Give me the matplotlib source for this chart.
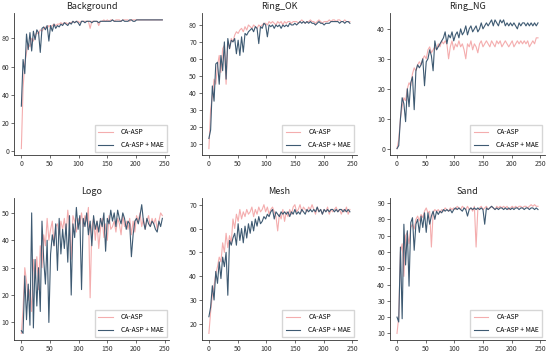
import matplotlib
matplotlib.use("Agg")
import matplotlib.pyplot as plt
from matplotlib.ticker import MultipleLocator
import numpy as np

plt.rcParams["font.family"] = ["Noto Sans CJK SC", "DejaVu Sans"]

# 每 3 个 epoch 取一个点
EPOCH_STEP = 3
LABELS = ["CA-ASP", "CA-ASP + MAE"]
TITLES = ["Background", "Ring_OK", "Ring_NG", "Logo", "Mesh", "Sand"]
Y_STEPS = [20, 10, 10, 10, 10, 10]

bg_asp = [2, 45, 62, 70, 76, 74, 80, 78, 82, 84,
          83, 86, 85, 87, 88, 87, 89, 88, 89, 90,
          89, 90, 90, 91, 90, 91, 91, 90, 91, 91,
          92, 91, 92, 92, 91, 92, 92, 92, 92, 92,
          87, 92, 92, 92, 92, 89, 92, 92, 93, 92,
          93, 92, 93, 93, 92, 93, 93, 93, 92, 93,
          93, 93, 93, 92, 93, 93, 93, 93, 93, 93,
          93, 93, 93, 93, 93, 93, 93, 93, 93, 93,
          93, 93, 93]
bg_mae = [32, 65, 55, 83, 72, 84, 71, 85, 79, 86,
          84, 70, 87, 88, 86, 89, 78, 89, 85, 90,
          87, 89, 88, 90, 89, 91, 90, 89, 91, 90,
          92, 91, 92, 91, 89, 92, 92, 91, 92, 92,
          92, 91, 92, 92, 92, 91, 92, 92, 92, 92,
          92, 92, 92, 93, 92, 92, 92, 92, 92, 93,
          92, 92, 92, 93, 93, 92, 92, 93, 93, 93,
          93, 93, 93, 93, 93, 93, 93, 93, 93, 93,
          93, 93, 93]

ok_asp = [7, 30, 38, 48, 45, 56, 62, 52, 66, 68,
          45, 70, 66, 72, 70, 74, 76, 75, 77, 78,
          76, 79, 77, 80, 79, 78, 80, 79, 78, 80,
          79, 80, 81, 81, 80, 82, 81, 82, 81, 80,
          82, 81, 82, 80, 82, 81, 82, 82, 81, 82,
          82, 82, 81, 82, 83, 82, 81, 82, 82, 83,
          82, 82, 81, 82, 83, 82, 81, 82, 82, 82,
          83, 82, 83, 83, 82, 83, 83, 82, 82, 83,
          82, 82, 82]
ok_mae = [13, 18, 44, 35, 57, 58, 45, 62, 53, 70,
          48, 72, 66, 71, 70, 72, 63, 71, 62, 73,
          64, 75, 74, 76, 77, 78, 76, 79, 78, 69,
          79, 78, 81, 80, 73, 80, 79, 80, 78, 80,
          79, 80, 78, 80, 79, 80, 79, 81, 80, 80,
          81, 80, 81, 82, 81, 82, 81, 82, 81, 82,
          81, 81, 80, 81, 82, 81, 81, 80, 81, 81,
          81, 82, 82, 82, 82, 82, 81, 82, 82, 81,
          82, 82, 81]

ng_asp = [0, 3, 10, 14, 17, 16, 20, 22, 21, 25,
          27, 26, 28, 29, 28, 30, 31, 30, 33, 34,
          32, 33, 34, 33, 35, 34, 36, 35, 36, 35,
          30, 34, 36, 33, 35, 34, 36, 34, 35, 33,
          30, 35, 34, 36, 33, 35, 34, 32, 35, 36,
          34, 35, 36, 35, 34, 36, 35, 34, 36, 35,
          36, 34, 35, 36, 35, 34, 35, 36, 34, 35,
          36, 35, 36, 35, 36, 35, 36, 34, 35, 36,
          35, 37, 37]
ng_mae = [0, 1, 10, 17, 15, 9, 20, 14, 22, 24,
          13, 26, 28, 27, 28, 30, 21, 29, 30, 33,
          31, 26, 36, 33, 34, 35, 36, 37, 39, 35,
          38, 37, 39, 36, 38, 39, 37, 40, 38, 39,
          41, 38, 40, 41, 39, 40, 41, 39, 40, 42,
          40, 41, 42, 41, 42, 43, 41, 43, 42, 41,
          43, 42, 43, 41, 42, 41, 42, 41, 42, 41,
          40, 42, 41, 42, 42, 41, 42, 41, 42, 41,
          42, 41, 42]

logo_asp = [6, 15, 30, 25, 18, 22, 14, 33, 26, 34,
            22, 38, 30, 42, 38, 48, 40, 44, 47, 38,
            45, 46, 42, 47, 44, 48, 42, 51, 45, 33,
            49, 47, 43, 48, 46, 50, 45, 49, 47, 52,
            19, 45, 48, 40, 47, 37, 44, 48, 41, 46,
            40, 49, 44, 45, 47, 43, 48, 46, 42, 49,
            45, 47, 44, 48, 42, 47, 43, 49, 47, 50,
            45, 48, 44, 47, 49, 45, 48, 46, 48, 44,
            47, 50, 49]
logo_mae = [7, 6, 27, 11, 24, 9, 50, 8, 33, 16,
            30, 14, 47, 33, 24, 40, 10, 35, 42, 38,
            46, 29, 48, 35, 44, 37, 46, 32, 49, 20,
            46, 41, 52, 44, 49, 22, 48, 45, 50, 42,
            47, 38, 49, 44, 47, 43, 48, 45, 50, 36,
            48, 46, 51, 47, 50, 45, 51, 48, 46, 50,
            48, 44, 47, 46, 34, 42, 47, 48, 46, 49,
            53, 47, 44, 48, 46, 45, 47, 46, 44, 43,
            47, 45, 48]

mesh_asp = [16, 25, 32, 36, 41, 44, 48, 46, 54, 50,
            58, 52, 57, 54, 64, 60, 66, 63, 68, 64,
            67, 65, 68, 66, 67, 69, 65, 68, 66, 69,
            67, 68, 70, 67, 69, 66, 68, 69, 67, 65,
            59, 66, 64, 68, 63, 67, 65, 68, 66, 69,
            70, 67, 68, 70, 67, 69, 68, 67, 69, 68,
            70, 68, 66, 69, 67, 68, 66, 68, 67, 69,
            66, 68, 67, 68, 69, 67, 68, 66, 68, 67,
            69, 66, 68]
mesh_mae = [23, 27, 36, 30, 42, 37, 46, 39, 48, 44,
            50, 32, 55, 53, 56, 58, 53, 62, 55, 60,
            54, 61, 56, 62, 58, 63, 59, 64, 61, 65,
            62, 63, 65, 64, 66, 65, 67, 68, 64, 67,
            66, 65, 67, 66, 67, 66, 67, 65, 67, 66,
            68, 66, 67, 66, 68, 67, 66, 68, 67, 68,
            67, 68, 67, 69, 67, 68, 66, 68, 67, 68,
            67, 68, 68, 67, 68, 67, 68, 68, 67, 68,
            67, 68, 67]

sand_asp = [10, 20, 60, 65, 45, 70, 72, 65, 75, 77,
            74, 80, 82, 79, 83, 81, 85, 87, 84, 85,
            63, 84, 86, 85, 86, 84, 86, 85, 87, 86,
            85, 87, 86, 87, 86, 88, 87, 86, 88, 87,
            86, 88, 86, 87, 85, 88, 63, 86, 87, 88,
            86, 87, 88, 86, 87, 88, 87, 86, 88, 87,
            88, 87, 88, 87, 88, 86, 87, 88, 87, 88,
            87, 88, 88, 87, 88, 88, 87, 88, 89, 88,
            89, 88, 88]
sand_mae = [20, 17, 63, 19, 77, 52, 73, 39, 78, 81,
            61, 77, 80, 72, 82, 75, 84, 72, 84, 77,
            82, 85, 80, 85, 83, 85, 84, 86, 85, 86,
            85, 86, 84, 86, 87, 86, 87, 86, 85, 87,
            86, 82, 86, 87, 86, 87, 86, 87, 86, 87,
            86, 77, 87, 86, 87, 88, 87, 86, 87, 86,
            87, 87, 86, 87, 86, 87, 86, 87, 86, 87,
            87, 86, 87, 87, 86, 87, 87, 86, 87, 87,
            86, 87, 86]

SERIES = [(bg_asp, bg_mae), (ok_asp, ok_mae), (ng_asp, ng_mae),
          (logo_asp, logo_mae), (mesh_asp, mesh_mae), (sand_asp, sand_mae)]

COLOR_ASP = "#f4adae"
COLOR_MAE = "#3e5a72"

# 各子图位置 (left, bottom, width, height)，按像素估计
LEFTS = [0.026, 0.367, 0.709]
BOTTOMS = [0.562, 0.040]
W, H = 0.282, 0.400


def main():
    fig = plt.figure(figsize=(5.5, 3.54), dpi=100, facecolor="white")

    for i, (title, (ya, yb)) in enumerate(zip(TITLES, SERIES)):
        r, c = divmod(i, 3)
        ax = fig.add_axes([LEFTS[c], BOTTOMS[r], W, H])
        xa = np.arange(len(ya)) * EPOCH_STEP
        xb = np.arange(len(yb)) * EPOCH_STEP
        ax.plot(xa, ya, color=COLOR_ASP, linewidth=0.8, label=LABELS[0])
        ax.plot(xb, yb, color=COLOR_MAE, linewidth=0.8, label=LABELS[1])

        ax.set_title(title, fontsize=6.5, pad=3, color="#222222")
        ax.set_xticks([0, 50, 100, 150, 200, 250])
        ax.yaxis.set_major_locator(MultipleLocator(Y_STEPS[i]))
        ax.tick_params(labelsize=5, length=2, width=0.5, pad=1.5,
                       colors="#333333")
        for side in ["top", "right"]:
            ax.spines[side].set_visible(False)
        for side in ["left", "bottom"]:
            ax.spines[side].set_linewidth(0.6)
            ax.spines[side].set_color("#333333")

        ax.legend(loc="lower right", fontsize=4.8, frameon=True,
                  edgecolor="#cccccc", fancybox=False, handlelength=2.2,
                  handletextpad=1.2, borderpad=0.5, labelspacing=0.7,
                  borderaxespad=0.4)

    fig.savefig("out.png", dpi=100, facecolor=fig.get_facecolor())
    plt.close(fig)


if __name__ == "__main__":
    main()
